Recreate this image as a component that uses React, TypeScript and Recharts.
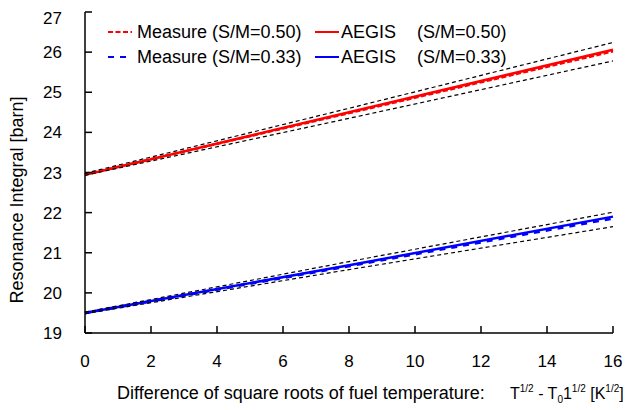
import React from 'react';
import { LineChart, Line, XAxis, YAxis, Legend } from 'recharts';

// temperature parameter: T^1/2 - T0^1/2
const xs = [0, 8, 16];

// S/M = 0.50
const measure050 = [22.95, 24.48, 26.02];
const aegis050 = [22.94, 24.5, 26.06];
const upper050 = [22.98, 24.6, 26.24];
const lower050 = [22.93, 24.35, 25.78];

// S/M = 0.33
const measure033 = [19.5, 20.67, 21.86];
const aegis033 = [19.5, 20.69, 21.9];
const upper033 = [19.52, 20.78, 22.01];
const lower033 = [19.48, 20.58, 21.65];

const xTicks = [0, 2, 4, 6, 8, 10, 12, 14, 16];
const yTicks = [19, 20, 21, 22, 23, 24, 25, 26, 27];

const data = xs.map((x, i) => ({
  x,
  measure050: measure050[i],
  aegis050: aegis050[i],
  upper050: upper050[i],
  lower050: lower050[i],
  measure033: measure033[i],
  aegis033: aegis033[i],
  upper033: upper033[i],
  lower033: lower033[i],
}));

const FONT = '"Liberation Sans", Arial, sans-serif';
const RED = '#ff0000';
const BLUE = '#0000ff';

const legendItems = [
  { label: 'Measure (S/M=0.50)', color: RED, dash: '5 2.5', col: 0, row: 0 },
  { label: 'AEGIS', tail: '(S/M=0.50)', color: RED, dash: undefined, col: 1, row: 0 },
  { label: 'Measure (S/M=0.33)', color: BLUE, dash: '6 6', col: 0, row: 1 },
  { label: 'AEGIS', tail: '(S/M=0.33)', color: BLUE, dash: undefined, col: 1, row: 1 },
];

const renderLegend = () => (
  <svg width={440} height={50} style={{ display: 'block' }}>
    {legendItems.map((it) => {
      const x0 = it.col === 0 ? 0 : 207;
      const textX = it.col === 0 ? x0 + 29 : x0 + 26;
      const y = 12 + it.row * 25;
      return (
        <g key={it.label + it.row + it.col}>
          <line x1={x0} x2={x0 + 24} y1={y} y2={y} stroke={it.color} strokeWidth={2} strokeDasharray={it.dash} />
          <text x={textX} y={y + 6} fontFamily={FONT} fontSize={18} fill="#000">
            {it.label}
          </text>
          {it.tail && (
            <text x={x0 + 102} y={y + 6} fontFamily={FONT} fontSize={18} fill="#000">
              {it.tail}
            </text>
          )}
        </g>
      );
    })}
  </svg>
);

const XTitle = () => (
  <g fontFamily={FONT} fill="#000">
    <text x={109} y={391} fontSize={18}>
      Difference of square roots of fuel temperature:
    </text>
    <text x={502} y={391} fontSize={16}>
      <tspan>T</tspan>
      <tspan fontSize={10} dy={-7}>1/2</tspan>
      <tspan dy={7}> - T</tspan>
      <tspan fontSize={10} dy={4}>0</tspan>
      <tspan dy={-4}>1</tspan>
      <tspan fontSize={10} dy={-7}>1/2</tspan>
      <tspan dy={7}> [K</tspan>
      <tspan fontSize={10} dy={-7}>1/2</tspan>
      <tspan dy={7}>]</tspan>
    </text>
  </g>
);

const YTitle = () => (
  <text
    x={15}
    y={192}
    transform="rotate(-90 15 192)"
    textAnchor="middle"
    fontFamily={FONT}
    fontSize={18}
    fill="#000"
  >
    Resonance Integral [barn]
  </text>
);

const tickStyle = { fontFamily: FONT, fontSize: 17, fill: '#000' };

export default function App() {
  return (
    <LineChart width={628} height={402} data={data} margin={{ top: 4, right: 23, bottom: 0, left: 0 }}>
      <XAxis
        dataKey="x"
        type="number"
        domain={[0, 16]}
        ticks={xTicks}
        height={77}
        tickSize={-7}
        tickMargin={29}
        tick={tickStyle}
        stroke="#000"
        strokeWidth={1.5}
        label={<XTitle />}
      />
      <XAxis xAxisId="top" orientation="top" dataKey="x" type="number" domain={[0, 16]} height={0} tick={false} tickLine={false} stroke="#000" strokeWidth={1.5} />
      <YAxis
        domain={[19, 27]}
        ticks={yTicks}
        width={77}
        tickSize={-7}
        tickMargin={30}
        tick={tickStyle}
        stroke="#000"
        strokeWidth={1.5}
        label={<YTitle />}
      />
      <YAxis yAxisId="right" orientation="right" domain={[19, 27]} width={0} tick={false} tickLine={false} stroke="#000" strokeWidth={1.5} />
      <Legend
        layout="vertical"
        align="center"
        verticalAlign="middle"
        content={renderLegend}
        wrapperStyle={{ left: 100, top: 12, width: 440 }}
      />

      <Line dataKey="aegis050" stroke={RED} strokeWidth={2.5} dot={false} isAnimationActive={false} />
      <Line dataKey="measure050" stroke={RED} strokeWidth={2.5} strokeDasharray="5 2.5" dot={false} isAnimationActive={false} />
      <Line dataKey="upper050" stroke="#000" strokeWidth={1.2} strokeDasharray="4 3" dot={false} isAnimationActive={false} />
      <Line dataKey="lower050" stroke="#000" strokeWidth={1.2} strokeDasharray="4 3" dot={false} isAnimationActive={false} />

      <Line dataKey="aegis033" stroke={BLUE} strokeWidth={2.5} dot={false} isAnimationActive={false} />
      <Line dataKey="measure033" stroke={BLUE} strokeWidth={3} strokeDasharray="6 6" dot={false} isAnimationActive={false} />
      <Line dataKey="upper033" stroke="#000" strokeWidth={1.2} strokeDasharray="4 3" dot={false} isAnimationActive={false} />
      <Line dataKey="lower033" stroke="#000" strokeWidth={1.2} strokeDasharray="4 3" dot={false} isAnimationActive={false} />
    </LineChart>
  );
}
